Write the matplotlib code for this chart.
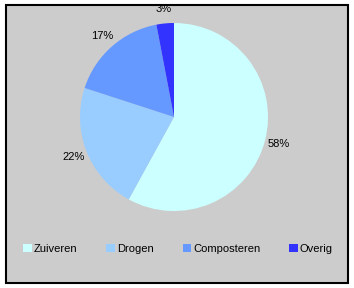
import matplotlib.pyplot as plt
from matplotlib.patches import Rectangle, Patch

labels = ['Zuiveren', 'Drogen', 'Composteren', 'Overig']
shares = [58, 22, 17, 3]
colors = ['#CCFFFF', '#99CCFF', '#6699FF', '#3333FF']

W, H = 354, 288
plt.rcParams['font.family'] = ['Liberation Sans', 'DejaVu Sans']

fig = plt.figure(figsize=(W / 100, H / 100), dpi=100, facecolor='white')

# grey chart area with black frame
fig.patches.append(Rectangle((5.5 / W, 1 - 282.5 / H), 342 / W, 278 / H,
                             transform=fig.transFigure, facecolor='#CCCCCC',
                             edgecolor='black', linewidth=1.5, zorder=-5))

# pie: center (174, 117) px, radius 94 px
cx, cy, r = 174, 117, 94
ax = fig.add_axes([(cx - r) / W, 1 - (cy + r) / H, 2 * r / W, 2 * r / H])
ax.set_zorder(2)
wedges, texts = ax.pie(shares, colors=colors, startangle=90, counterclock=False,
                       labels=[f'{v}%' for v in shares], labeldistance=1.15,
                       textprops={'fontsize': 8})
for t in texts:
    t.set_horizontalalignment('center')
    t.set_verticalalignment('center')
ax.set_xlim(-1, 1)
ax.set_ylim(-1, 1)
ax.set_aspect('equal')
ax.axis('off')

handles = [Patch(facecolor=c, edgecolor='none') for c in colors]
fig.legend(handles, labels, loc='center', bbox_to_anchor=(0.503, 1 - 249 / H),
           ncol=4, frameon=False, fontsize=8, handlelength=0.75, handleheight=0.75,
           handletextpad=0.2, columnspacing=2.6)

fig.savefig('out.png', dpi=100, facecolor='white')
